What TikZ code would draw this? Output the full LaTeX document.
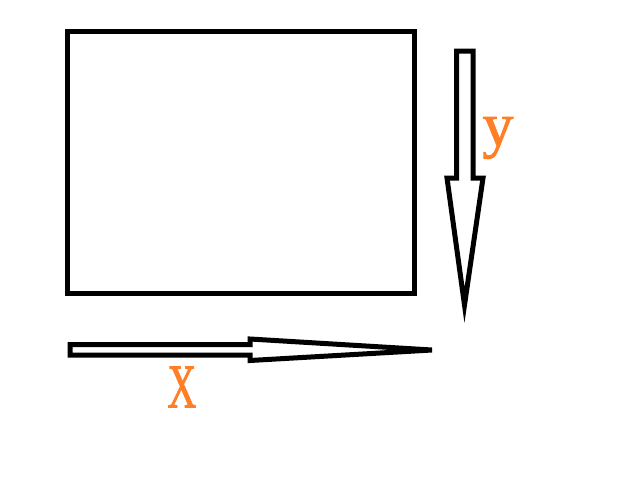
\documentclass[tikz,border=0pt]{standalone}
\usepackage{fontspec}
\setmainfont{Liberation Serif}
\newfontfamily\lblfont[FakeBold=1.5]{Liberation Serif}
\definecolor{paintorange}{RGB}{255,127,39}
\begin{document}
\begin{tikzpicture}[x=1pt,y=-1pt,
  outline/.style={draw=black,line width=5pt,line join=miter},
  lbl/.style={text=paintorange,inner sep=0pt,font=\fontsize{62}{62}\lblfont}]
\useasboundingbox (0,0) rectangle (631,479);
\draw[outline] (67.5,31.5) rectangle (414,293);
% vertical arrow (y)
\draw[outline] (456.5,51) -- (473,51) -- (473,178) -- (483,178) -- (464.5,305)
  -- (447,178) -- (456.5,178) -- cycle;
% horizontal arrow (x)
\draw[outline] (70,344.5) -- (250,344.5) -- (250,339) -- (432,350)
  -- (250,360.5) -- (250,355) -- (70,355) -- cycle;
\node[lbl] (ylab) at (498,138) {y};
\node[lbl] (xlab) at (182,387) {\scalebox{0.64}[1]{X}};
\end{tikzpicture}
\end{document}
